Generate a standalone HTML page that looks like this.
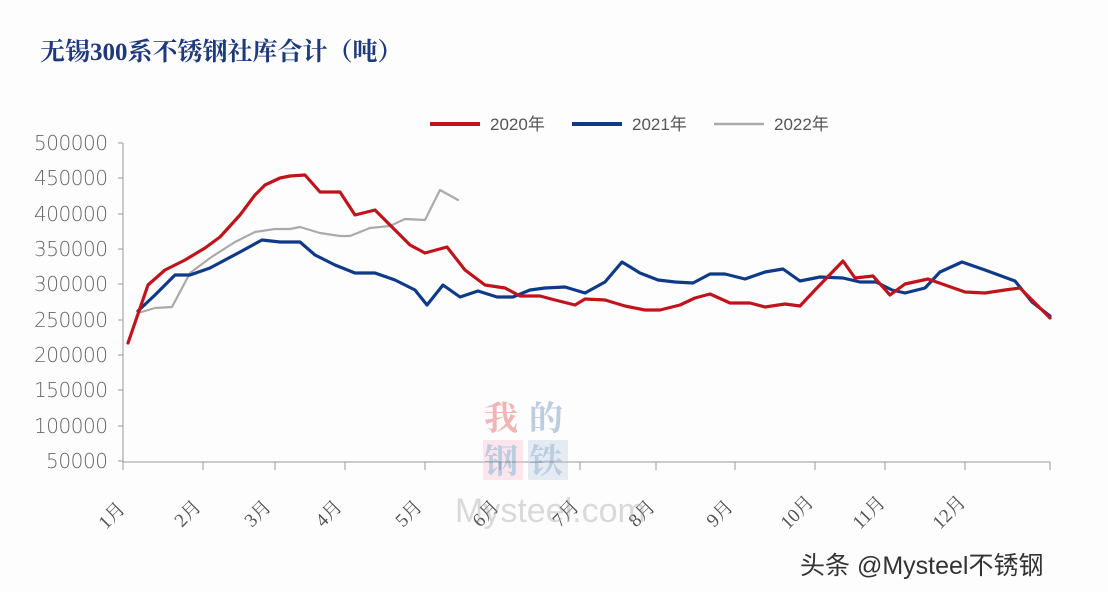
<!DOCTYPE html>
<html><head><meta charset="utf-8"><style>
body{margin:0;background:#fff;width:1108px;height:592px;overflow:hidden;font-family:"Liberation Sans","Noto Sans CJK SC",sans-serif}
</style></head><body>
<svg width="1108" height="592" xmlns="http://www.w3.org/2000/svg">
<rect width="1108" height="592" fill="#fdfdfe"/>
<text x="40" y="60" font-family="Liberation Serif,Noto Serif CJK SC,serif" font-weight="bold" font-size="25" fill="#1f3a7a">无锡300系不锈钢社库合计（吨）</text>
<g font-size="17" fill="#555">
<line x1="430" y1="124" x2="480" y2="124" stroke="#c0141c" stroke-width="4"/><text x="490" y="130">2020年</text>
<line x1="572" y1="124" x2="622" y2="124" stroke="#0f3a88" stroke-width="4"/><text x="632" y="130">2021年</text>
<line x1="714" y1="124" x2="764" y2="124" stroke="#aaa" stroke-width="2.5"/><text x="774" y="130">2022年</text>
</g>
<g font-size="20" fill="#666" text-anchor="end" font-family="DejaVu Sans,sans-serif" font-weight="300" textLength="75">
<text x="108" y="150" textLength="74">500000</text><text x="108" y="185" textLength="74">450000</text><text x="108" y="221" textLength="74">400000</text><text x="108" y="256" textLength="74">350000</text><text x="108" y="291" textLength="74">300000</text><text x="108" y="327" textLength="74">250000</text><text x="108" y="362" textLength="74">200000</text><text x="108" y="397" textLength="74">150000</text><text x="108" y="433" textLength="74">100000</text><text x="108" y="468" textLength="62">50000</text>
</g>
<g stroke="#999" stroke-width="1">
<line x1="123" y1="143" x2="123" y2="462"/><line x1="123" y1="462" x2="1050" y2="462"/>
<line x1="118" y1="143" x2="123" y2="143"/><line x1="118" y1="178" x2="123" y2="178"/><line x1="118" y1="214" x2="123" y2="214"/><line x1="118" y1="249" x2="123" y2="249"/><line x1="118" y1="284" x2="123" y2="284"/><line x1="118" y1="320" x2="123" y2="320"/><line x1="118" y1="355" x2="123" y2="355"/><line x1="118" y1="390" x2="123" y2="390"/><line x1="118" y1="426" x2="123" y2="426"/><line x1="118" y1="461" x2="123" y2="461"/>
<path d="M123 462v8M203 462v8M275 462v8M345 462v8M425 462v8M500 462v8M580 462v8M656 462v8M735 462v8M815 462v8M885 462v8M965 462v8M1050 462v8"/>
</g>
<g font-size="19" fill="#555" font-family="Liberation Serif,Noto Serif CJK SC,serif">
<text transform="translate(106,530) rotate(-45)">1月</text><text transform="translate(182,528) rotate(-45)">2月</text><text transform="translate(252,528) rotate(-45)">3月</text><text transform="translate(323,528) rotate(-45)">4月</text><text transform="translate(403,528) rotate(-45)">5月</text><text transform="translate(480,528) rotate(-45)">6月</text><text transform="translate(560,528) rotate(-45)">7月</text><text transform="translate(636,528) rotate(-45)">8月</text><text transform="translate(714,528) rotate(-45)">9月</text><text transform="translate(788,530) rotate(-45)">10月</text><text transform="translate(860,530) rotate(-45)">11月</text><text transform="translate(940,530) rotate(-45)">12月</text>
</g>
<g opacity="0.35" font-weight="bold" font-size="34" font-family="Noto Serif CJK SC,serif">
<rect x="483" y="440" width="40" height="40" fill="#fbc"/><rect x="528" y="440" width="40" height="40" fill="#bcd"/>
<text x="484" y="430" fill="#d33">我</text><text x="529" y="430" fill="#47a">的</text>
<text x="484" y="473" fill="#47a">钢</text><text x="529" y="473" fill="#47a">铁</text>
<text x="455" y="522" font-size="34" font-weight="normal" font-family="Liberation Sans,sans-serif" fill="#999">Mysteel.com</text>
</g>
<g fill="none" stroke-linejoin="round" stroke-linecap="round">
<polyline stroke="#aaa" stroke-width="2.2" points="138,313 155,308 172,307 190,273 210,258 235,242 255,232 275,229 290,229 300,227 320,233 340,236 350,236 370,228 390,226 405,219 425,220 440,190 458,200"/>
<polyline stroke="#0f3a88" stroke-width="3.2" points="138,311 155,295 175,275 190,275 210,268 240,252 262,240 280,242 300,242 315,255 335,265 355,273 375,273 395,280 415,290 427,305 443,285 460,297 478,291 497,297 513,297 530,290 545,288 565,287 585,293 605,282 622,262 640,273 658,280 675,282 693,283 710,274 725,274 745,279 765,272 783,269 800,281 820,277 843,278 860,282 876,282 892,290 905,293 925,288 940,272 962,262 985,270 1015,281 1032,302 1050,316"/>
<polyline stroke="#c0141c" stroke-width="3.2" points="128,343 148,285 165,270 185,260 205,248 220,237 240,215 255,195 265,185 280,178 290,176 305,175 320,192 340,192 355,215 375,210 395,230 410,245 425,253 447,247 465,270 485,285 505,288 520,296 540,296 555,300 575,305 585,299 605,300 625,306 645,310 660,310 680,305 695,298 710,294 730,303 750,303 765,307 785,304 800,306 815,290 843,261 855,278 873,276 890,295 905,284 928,279 945,285 965,292 985,293 1005,290 1020,288 1035,303 1050,318"/>
</g>
<text x="800" y="574" font-size="25" fill="#333">头条 @Mysteel不锈钢</text>
</svg>
</body></html>
